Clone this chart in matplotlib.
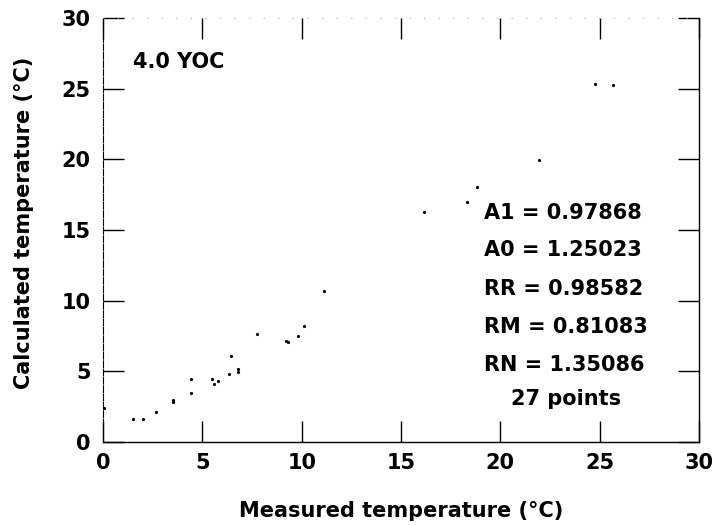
import numpy as np
import matplotlib
matplotlib.use('Agg')
import matplotlib.pyplot as plt

plt.rcParams['font.family'] = ['DejaVu Sans']
plt.rcParams['font.weight'] = 'bold'

# measured vs calculated temperature, 27 points
measured = [0.05, 1.5, 2.0, 2.67, 3.54, 3.54, 4.41, 4.41, 5.47, 5.57,
            5.77, 6.36, 6.46, 6.78, 6.78, 7.77, 9.2, 9.3, 9.81, 10.12,
            11.1, 16.17, 18.3, 18.8, 21.94, 24.76, 25.68]
calculated = [2.38, 1.65, 1.6, 2.1, 2.8, 3.0, 3.49, 4.48, 4.48, 4.08,
              4.32, 4.81, 6.11, 4.95, 5.2, 7.64, 7.17, 7.1, 7.5, 8.21,
              10.69, 16.25, 16.96, 18.07, 19.96, 25.34, 25.27]

fit_lines = ['A1 = 0.97868', 'A0 = 1.25023', 'RR = 0.98582',
             'RM = 0.81083', 'RN = 1.35086']
n_points_label = '27 points'
series_label = '4.0 YOC'

ticks = [0, 5, 10, 15, 20, 25, 30]

fig = plt.figure(figsize=(7.16, 5.26), dpi=100)
ax = fig.add_axes([0.1439, 0.1597, 0.8324, 0.8061])

ax.plot(measured, calculated, 'o', color='black', markersize=2.3, markeredgewidth=0)

ax.set_xlim(0, 30)
ax.set_ylim(0, 30)
ax.set_xticks(ticks)
ax.set_yticks(ticks)

fs = 15
ax.tick_params(direction='in', length=15, width=1.0, color='black',
               top=True, right=True, labelsize=fs)
ax.tick_params(axis='y', pad=9)
ax.tick_params(axis='x', pad=8)

for side in ['bottom', 'right']:
    ax.spines[side].set_linewidth(1.0)
ax.spines['left'].set_linewidth(0.8)
ax.spines['left'].set_linestyle((0, (6, 1.5)))
ax.spines['top'].set_linewidth(0.5)
ax.spines['top'].set_color('#999999')
ax.spines['top'].set_linestyle((0, (1, 20)))

ax.set_xlabel('Measured temperature (°C)', fontsize=fs, fontweight='bold')
ax.set_ylabel('Calculated temperature (°C)', fontsize=fs, fontweight='bold')
ax.xaxis.set_label_coords(0.5, -0.163)
ax.xaxis.label.set_va('center')
ax.yaxis.set_label_coords(-0.133, 0.516)
ax.yaxis.label.set_va('center')

ax.text(1.5, 26.9, series_label, fontsize=fs, fontweight='bold', va='center', ha='left')

line_y = [16.2, 13.59, 10.83, 8.14, 5.45]
for txt, yy in zip(fit_lines, line_y):
    ax.text(19.2, yy, txt, fontsize=fs, fontweight='bold', va='center', ha='left')
ax.text(23.3, 3.04, n_points_label, fontsize=fs, fontweight='bold', va='center', ha='center')

fig.savefig('out.png', dpi=100)
